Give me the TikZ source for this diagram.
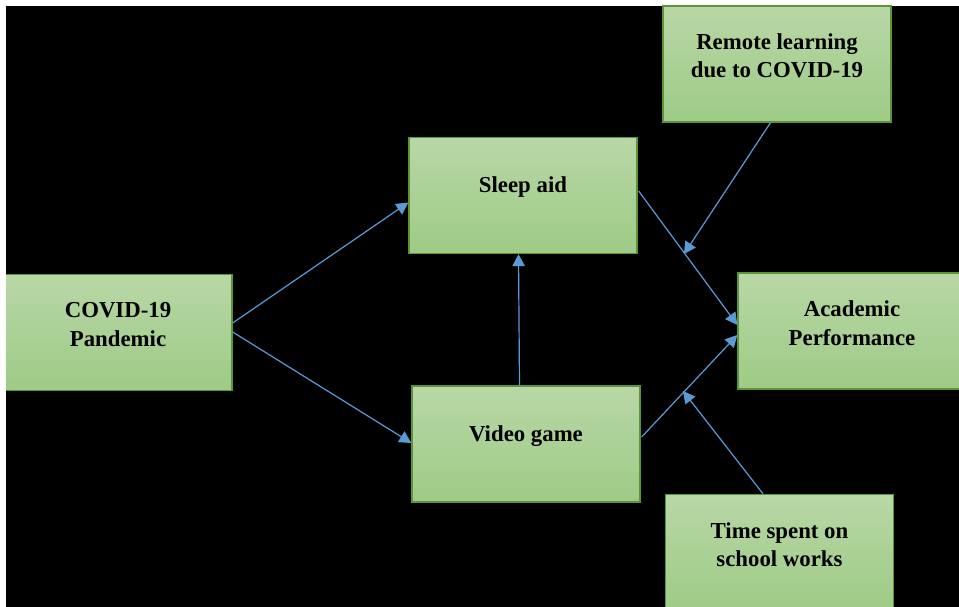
\documentclass[tikz,border=0pt]{standalone}
\usepackage{fontspec}
\setmainfont{Liberation Serif}
\usetikzlibrary{arrows.meta}
\definecolor{boxtop}{RGB}{184,215,166}
\definecolor{boxbot}{RGB}{158,203,134}
\definecolor{boxedge}{RGB}{92,148,58}
\definecolor{link}{RGB}{91,155,213}
\tikzset{
  factor/.style={draw=boxedge, line width=1.3pt, top color=boxtop, bottom color=boxbot,
    minimum width=228pt, minimum height=116pt, inner sep=0pt},
  caption/.style={font=\fontsize{22.8}{28.5}\selectfont\bfseries, align=center, yshift=8pt},
  link/.style={draw=link, line width=1.2pt,
    -{Triangle[length=12pt 0 0, width=12.5pt 0 0]}}
}
\begin{document}
\begin{tikzpicture}[x=1pt,y=-1pt]
  % page and backdrop
  \fill[white] (0,0) rectangle (959,607);
  \useasboundingbox (0,0) rectangle (959,607);
  \begin{scope}
    \clip (6,6) rectangle (959,607);
    \fill[black] (6,6) rectangle (959,607);

    % factor boxes
    \node[factor] (remote) at (777,64) {};
    \node[factor] (sleep) at (523,195.5) {};
    \node[factor] (acad) at (852,331) {};
    \node[factor] (covid) at (118,332.5) {};
    \node[factor] (video) at (526,444) {};
    \node[factor] (time) at (779.5,552.5) {};

    % box captions
    \node[caption] (remoteT) at (remote.center) {Remote learning\\due to COVID-19};
    \node[caption] (sleepT) at (sleep.center) {Sleep aid};
    \node[caption] (acadT) at (acad.center) {Academic\\Performance};
    \node[caption] (covidT) at (covid.center) {COVID-19\\Pandemic};
    \node[caption] (videoT) at (video.center) {Video game};
    \node[caption] (timeT) at (time.center) {Time spent on\\school works};

    % moderator targets on the paths into Academic Performance
    \coordinate (modA) at (684,254);
    \coordinate (modB) at (683,391);

    % paths
    \draw[link] ([yshift=9.5pt]covid.east) -- ([yshift=-7pt]sleep.west);
    \draw[link] ([yshift=0.5pt]covid.east) -- ([yshift=1pt]video.west);
    \draw[link] ([xshift=-6.5pt]video.north) -- ([xshift=-4.5pt]sleep.south);
    \draw[link] ([shift={(1pt,4.5pt)}]sleep.east) -- ([yshift=6pt]acad.west);
    \draw[link] ([shift={(1pt,7pt)}]video.east) -- ([yshift=-4pt]acad.west);
    \draw[link] ([xshift=-6.5pt]remote.south) -- (modA);
    \draw[link] ([xshift=-16.5pt]time.north) -- (modB);
  \end{scope}
\end{tikzpicture}
\end{document}
